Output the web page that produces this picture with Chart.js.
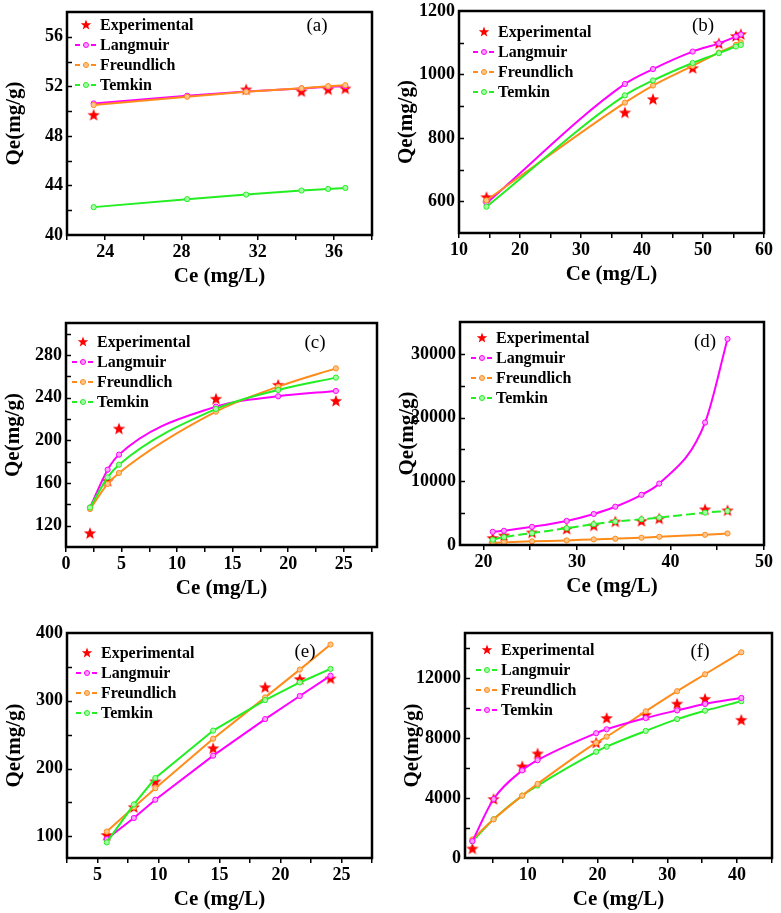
<!DOCTYPE html>
<html>
<head>
<meta charset="utf-8">
<script src="https://cdn.jsdelivr.net/npm/chart.js@4.4.1/dist/chart.umd.min.js"></script>
<style>
  html, body { margin: 0; padding: 0; background: #fff; }
  #fig { position: relative; width: 781px; height: 913px; overflow: hidden; }
  #fig canvas { position: absolute; }
</style>
</head>
<body>
<div id="fig"></div>
<script>
// ---- data ----
const names = ['Experimental', 'Langmuir', 'Freundlich', 'Temkin'];

// (a)
const aCe   = [23.4, 28.3, 31.4, 34.3, 35.7, 36.6];
const aExp  = [49.7, null, 51.75, 51.6, 51.75, 51.83];
const aLang = [50.62, 51.24, 51.59, 51.83, 51.96, 52.01];
const aFreu = [50.49, 51.16, 51.56, 51.85, 52.01, 52.09];
const aTemk = [42.25, 42.89, 43.26, 43.59, 43.72, 43.80];
const aXTicks = [24, 28, 32, 36];
const aYTicks = [40, 44, 48, 52, 56];

// (b)
const bCe   = [14.5, 37.2, 41.8, 48.3, 52.6, 55.4, 56.2];
const bExp  = [613, 880, 922, 1020, 1098, 1121, 1127];
const bLang = [594, 970, 1017, 1072, 1098, 1119, 1126];
const bFreu = [603, 911, 965, 1027, 1069, 1093, 1101];
const bTemk = [583, 934, 981, 1036, 1067, 1088, 1093];
const bXTicks = [10, 20, 30, 40, 50, 60];
const bYTicks = [600, 800, 1000, 1200];

// (c)
const cCe   = [2.16, 3.75, 4.77, 13.5, 19.1, 24.3];
const cExp  = [113, 162, 211, 239, 252, 237];
const cLang = [137, 172.5, 186.6, 231.6, 241.3, 246.3];
const cFreu = [135.6, 159.1, 169.4, 226.9, 250.3, 267.5];
const cTemk = [137, 165.3, 177.2, 229.4, 247.2, 258.8];
const cXTicks = [0, 5, 10, 15, 20, 25];
const cYTicks = [120, 160, 200, 240, 280];

// (d)
const dCe   = [21.0, 22.2, 25.2, 28.9, 31.8, 34.1, 36.9, 38.8, 43.7, 46.1];
const dExp  = [1090, 1500, 1970, 2540, 3060, 3680, 3780, 4150, 5600, 5440];
const dLang = [2070, 2230, 2850, 3780, 4870, 6010, 7880, 9640, 19220, 32330];
const dFreu = [310, 415, 570, 725, 880, 985, 1140, 1295, 1605, 1815];
const dTemk = [830, 1245, 1865, 2640, 3265, 3680, 4040, 4300, 5080, 5340];
const dXTicks = [20, 30, 40, 50];
const dYTicks = [0, 10000, 20000, 30000];

// (e)
const eCe   = [5.76, 7.98, 9.74, 14.48, 18.74, 21.58, 24.1];
const eExp  = [102, 143, 181, 230, 320, 332, 333];
const eLang = [96, 127, 154, 219, 273, 307, 337];
const eFreu = [107, 143, 171, 244, 305, 346, 383];
const eTemk = [91, 147, 186, 256, 301, 327, 347];
const eXTicks = [5, 10, 15, 20, 25];
const eYTicks = [100, 200, 300, 400];

// (f)
const fCe   = [2.06, 5.1, 9.2, 11.4, 19.8, 21.3, 26.9, 31.4, 35.4, 40.6];
const fExp  = [630, 3930, 6110, 6970, 7690, 9330, 9550, 10290, 10610, 9210];
const fLang = [1120, 2580, 4160, 4830, 7080, 7420, 8470, 9260, 9820, 10450];
const fFreu = [1240, 2580, 4160, 4940, 7690, 8090, 9780, 11120, 12250, 13710];
const fTemk = [1120, 3930, 5840, 6520, 8320, 8580, 9330, 9840, 10270, 10670];
const fXTicks = [10, 20, 30, 40];
const fYTicks = [0, 4000, 8000, 12000];

// ---- styling ----
const RED = '#ff0000', MAG = '#ff00ff', ORA = '#ff8c1a', GRN = '#22ee22';
const tint = { [MAG]: '#ffa0ff', [ORA]: '#ffc48a', [GRN]: '#a6ffa6' };
const SERIF = "'Liberation Serif', 'Times New Roman', serif";

const panels = [
  { ce: aCe, vals: [aExp, aLang, aFreu, aTemk], colors: [RED, MAG, ORA, GRN],
    xr: [22, 38], yr: [40, 58], xt: aXTicks, yt: aYTicks, smooth: false,
    plot: { l: 67, t: 12, r: 372, b: 235 }, label: '(a)', labelAt: [317, 26], legAt: [86, 25] },
  { ce: bCe, vals: [bExp, bLang, bFreu, bTemk], colors: [RED, MAG, ORA, GRN],
    xr: [10, 60], yr: [500, 1200], xt: bXTicks, yt: bYTicks, smooth: true,
    plot: { l: 459, t: 11, r: 767, b: 233 }, label: '(b)', labelAt: [703, 26], legAt: [484, 32] },
  { ce: cCe, vals: [cExp, cLang, cFreu, cTemk], colors: [RED, MAG, ORA, GRN],
    xr: [0, 28], yr: [100, 310], xt: cXTicks, yt: cYTicks, smooth: true,
    plot: { l: 66, t: 323, r: 377, b: 547 }, label: '(c)', labelAt: [315, 343], legAt: [83, 342] },
  { ce: dCe, vals: [dExp, dLang, dFreu, dTemk], colors: [RED, MAG, ORA, GRN],
    xr: [17.5, 50], yr: [0, 35000], xt: dXTicks, yt: dYTicks, smooth: true, dashLast: true,
    plot: { l: 460, t: 322, r: 767, b: 545 }, label: '(d)', labelAt: [705, 342], legAt: [482, 338] },
  { ce: eCe, vals: [eExp, eLang, eFreu, eTemk], colors: [RED, MAG, ORA, GRN],
    xr: [2.5, 27.5], yr: [68, 400], xt: eXTicks, yt: eYTicks, smooth: false,
    plot: { l: 67, t: 633, r: 372, b: 858 }, label: '(e)', labelAt: [305, 652], legAt: [87, 653] },
  { ce: fCe, vals: [fExp, fLang, fFreu, fTemk], colors: [RED, GRN, ORA, MAG],
    xr: [1, 45], yr: [0, 15000], xt: fXTicks, yt: fYTicks, smooth: true,
    plot: { l: 465, t: 633, r: 772, b: 858 }, label: '(f)', labelAt: [700, 652], legAt: [487, 650] }
];

function drawStar(ctx, cx, cy, r, color) {
  ctx.save();
  ctx.beginPath();
  for (let i = 0; i < 10; i++) {
    const rr = i % 2 === 0 ? r : r * 0.42;
    const a = -Math.PI / 2 + i * Math.PI / 5;
    const px = cx + rr * Math.cos(a), py = cy + rr * Math.sin(a);
    if (i === 0) ctx.moveTo(px, py); else ctx.lineTo(px, py);
  }
  ctx.closePath();
  ctx.fillStyle = color;
  ctx.fill();
  ctx.restore();
}

const starImg = document.createElement('canvas');
starImg.width = 14; starImg.height = 14;
drawStar(starImg.getContext('2d'), 7, 7.5, 6.5, RED);

function withMinor(majors, min, max) {
  const h = (majors[1] - majors[0]) / 2;
  let v = majors[0];
  while (v - h >= min - 1e-9) v -= h;
  const out = [];
  for (; v <= max + 1e-9; v += h) out.push({ value: +v.toFixed(6) });
  return out;
}

const decoPlugin = {
  id: 'deco',
  afterDraw(chart, args, o) {
    const ctx = chart.ctx, a = chart.chartArea;
    ctx.save();
    ctx.strokeStyle = '#000';
    ctx.lineWidth = 2.5;
    ctx.strokeRect(a.left, a.top, a.right - a.left, a.bottom - a.top);

    // y ticks point inward in the original
    const ys = chart.scales.y;
    ctx.lineWidth = 1.5;
    ys.ticks.forEach(t => {
      const py = Math.round(ys.getPixelForValue(t.value)) + 0.5;
      if (py < a.top + 2 || py > a.bottom - 2) return;
      ctx.beginPath();
      ctx.moveTo(a.left, py);
      ctx.lineTo(a.left + 5, py);
      ctx.stroke();
    });

    // panel label
    ctx.fillStyle = '#000';
    ctx.font = '19px ' + SERIF;
    ctx.textAlign = 'center';
    ctx.textBaseline = 'middle';
    ctx.fillText(o.label, o.labelAt[0], o.labelAt[1]);

    // legend
    ctx.font = 'bold 16px ' + SERIF;
    ctx.textAlign = 'left';
    o.names.forEach((n, i) => {
      const x = o.legAt[0], y = o.legAt[1] + i * 20;
      if (i === 0) {
        drawStar(ctx, x, y, 5.5, o.colors[0]);
      } else {
        ctx.strokeStyle = o.colors[i];
        ctx.lineWidth = 2;
        ctx.setLineDash([5, 3]);
        ctx.beginPath();
        ctx.moveTo(x - 11, y); ctx.lineTo(x + 11, y);
        ctx.stroke();
        ctx.setLineDash([]);
        ctx.beginPath();
        ctx.arc(x, y, 2.5, 0, Math.PI * 2);
        ctx.fillStyle = tint[o.colors[i]];
        ctx.fill();
        ctx.lineWidth = 1;
        ctx.stroke();
      }
      ctx.fillStyle = '#000';
      ctx.fillText(n, x + 14, y + 1);
    });
    ctx.restore();
  }
};

const fig = document.getElementById('fig');

panels.forEach(p => {
  const left = p.plot.l - 67, top = p.plot.t - 12;
  const w = p.plot.r - left + 8, h = p.plot.b - top + 58;
  const cv = document.createElement('canvas');
  cv.width = w; cv.height = h;
  cv.style.left = left + 'px'; cv.style.top = top + 'px';
  cv.style.width = w + 'px'; cv.style.height = h + 'px';
  fig.appendChild(cv);

  const datasets = p.vals.map((vals, i) => {
    const pts = p.ce.map((x, k) => ({ x: x, y: vals[k] })).filter(d => d.y !== null);
    if (i === 0) {
      return { label: names[i], data: pts, showLine: false, pointStyle: starImg, order: 10 };
    }
    const c = p.colors[i];
    return {
      label: names[i], data: pts, showLine: true, order: 4 - i,
      borderColor: c, borderWidth: 2,
      borderDash: (p.dashLast && i === 3) ? [9, 4] : [],
      pointRadius: 2.6, pointBorderWidth: 1,
      pointBackgroundColor: tint[c], pointBorderColor: c,
      tension: p.smooth ? 0.4 : 0,
      cubicInterpolationMode: p.smooth ? 'monotone' : 'default'
    };
  });

  const axis = (range, majors, isX) => ({
    type: 'linear',
    min: range[0], max: range[1],
    afterBuildTicks: s => { s.ticks = withMinor(majors, range[0], range[1]); },
    afterFit: s => { if (isX) s.height = 58; else s.width = 67; },
    grid: {
      drawOnChartArea: false, drawTicks: true, tickLength: isX ? 5 : 3,
      color: isX ? '#000' : 'rgba(0,0,0,0)', lineWidth: 1.5
    },
    border: { display: false },
    ticks: {
      autoSkip: false, maxRotation: 0, padding: isX ? 2 : 1,
      color: '#000', font: { family: SERIF, size: 18, weight: 'bold' },
      callback: v => majors.includes(v) ? String(v) : ''
    },
    title: {
      display: true, text: isX ? 'Ce (mg/L)' : 'Qe(mg/g)', color: '#000',
      font: { family: SERIF, size: 21, weight: 'bold' }, padding: { top: 2, bottom: 4 }
    }
  });

  new Chart(cv.getContext('2d'), {
    type: 'scatter',
    data: { datasets },
    options: {
      responsive: false,
      animation: false,
      layout: { padding: { top: 12, right: 8, left: 0, bottom: 0 } },
      scales: { x: axis(p.xr, p.xt, true), y: axis(p.yr, p.yt, false) },
      plugins: {
        legend: { display: false },
        tooltip: { enabled: false },
        deco: {
          label: p.label, names: names, colors: p.colors,
          labelAt: [p.labelAt[0] - left, p.labelAt[1] - top],
          legAt: [p.legAt[0] - left, p.legAt[1] - top]
        }
      }
    },
    plugins: [decoPlugin]
  });
});
</script>
</body>
</html>
